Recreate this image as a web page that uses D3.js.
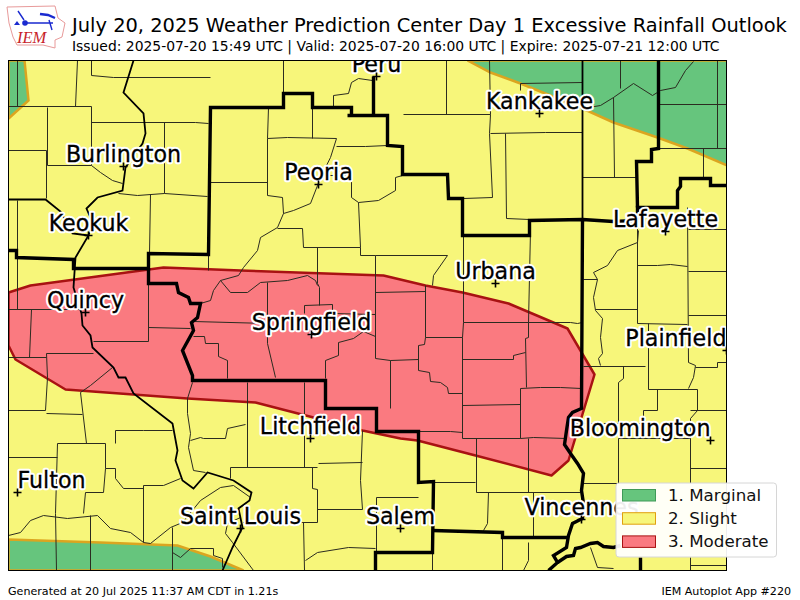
<!DOCTYPE html>
<html>
<head>
  <meta charset="utf-8">
  <script src="https://d3js.org/d3.v7.min.js"></script>
  <style>
    html, body { margin: 0; padding: 0; background: #fff; }
    text { font-family: "DejaVu Sans", sans-serif; }
  </style>
</head>
<body>
<script type="text/javascript">

  var titleText = "July 20, 2025 Weather Prediction Center Day 1 Excessive Rainfall Outlook";
  var subtitleText = "Issued: 2025-07-20 15:49 UTC | Valid: 2025-07-20 16:00 UTC | Expire: 2025-07-21 12:00 UTC";
  var footerLeft = "Generated at 20 Jul 2025 11:37 AM CDT in 1.21s";
  var footerRight = "IEM Autoplot App #220";

  var legendLabels = ["1. Marginal", "2. Slight", "3. Moderate"];
  var legendFills = ["#66c57d", "#f7f67a", "#fa7a80"];
  var legendEdges = ["#3f9a58", "#e0a010", "#a81212"];

  var cityNames = ["Peru", "Kankakee", "Burlington", "Peoria", "Keokuk", "Lafayette", "Urbana", "Quincy", "Springfield", "Plainfield", "Litchfield", "Bloomington", "Fulton", "Saint Louis", "Salem", "Vincennes"];
  var cityX = [376, 539, 123, 318, 88, 665, 495, 85, 311, 726, 310, 710, 17, 240, 400, 581];
  var cityY = [76, 113, 166, 184, 235, 231, 283, 312, 334, 350, 438, 440, 492, 528, 528, 519];
  var cityAnchor = ["middle", "middle", "middle", "middle", "middle", "middle", "middle", "middle", "middle", "end", "middle", "end", "start", "middle", "middle", "middle"];

  var marginalNW = [[8, 60], [24, 60], [28, 100], [8, 118]];
  var marginalNE = [[467, 60], [490, 72], [520, 83], [582, 108], [613, 122], [657, 137], [687, 148], [727, 165], [727, 60]];
  var marginalSW = [[8, 539], [100, 542], [177, 545], [210, 556], [243, 570], [8, 570]];
  var moderate = [[8, 292], [30, 285], [163, 267], [240, 270], [383, 275], [425, 285], [462, 292], [508, 303], [567, 328], [594, 374], [568, 460], [551, 475], [475, 455], [417, 440], [400, 438], [362, 430], [313, 417], [255, 402], [187, 398], [65, 389], [15, 359], [8, 345]];

  var cwaLines = [
    [[8, 250], [16, 250], [16, 257], [73, 259], [73, 268], [148, 268], [148, 253], [208, 254], [210, 107], [283, 107], [283, 93], [312, 93], [312, 107], [351, 107], [351, 115], [347, 115], [387, 115], [387, 145], [402, 146], [402, 174], [447, 174], [448, 198], [462, 198], [462, 235], [529, 235], [529, 220], [582, 219], [613, 221], [637, 220], [637, 207], [677, 207], [677, 190], [680, 186], [680, 178], [710, 178], [710, 185], [727, 185]],
    [[373, 76], [373, 115]],
    [[637, 207], [636, 161], [651, 161], [651, 149], [658, 148], [658, 60]],
    [[582, 219], [581, 408], [572, 412], [568, 417], [566, 430], [564, 444], [570, 453], [577, 463], [583, 473], [581, 490], [583, 503], [582, 518], [572, 523], [568, 535], [566, 547], [553, 555], [557, 562], [548, 570]],
    [[557, 562], [563, 558], [566, 556], [573, 555], [575, 548], [580, 547], [590, 543], [597, 542], [603, 546], [613, 547], [620, 545]],
    [[640, 557], [640, 570]],
    [[148, 268], [148, 283], [176, 283], [178, 292], [188, 297], [190, 303], [200, 303], [197, 317], [191, 322], [193, 330], [182, 350], [192, 375], [192, 380], [325, 380], [325, 408], [376, 408], [376, 431], [418, 431], [418, 482], [433, 481], [432, 552], [375, 552], [375, 570]],
    [[432, 530], [502, 532], [502, 537], [567, 537]]
  ];

  var riverLines = [
    [[133, 60], [123, 92], [143, 113], [145, 133], [142, 143], [125, 167], [122, 190], [97, 197], [86, 208], [92, 222], [88, 235], [75, 257], [73, 287], [81, 313], [82, 325], [90, 335], [92, 347], [113, 367], [118, 377], [125, 377], [133, 393], [172, 423], [177, 450], [175, 460], [182, 480], [193, 488], [207, 472], [233, 480], [251, 492], [249, 500], [238, 508], [242, 527], [232, 547], [222, 570]],
    [[8, 199], [45, 199], [60, 211], [72, 233], [88, 235]],
    [[582, 60], [582, 220]]
  ];

  var countyNorth = [
    [[17, 60], [17, 106]], [[77, 60], [75, 106]], [[8, 106], [91, 106]], [[91, 60], [91, 75], [113, 77], [210, 77]],
    [[91, 106], [91, 165], [100, 172], [112, 180], [122, 183]], [[47, 107], [47, 165], [91, 165]], [[91, 122], [195, 122], [208, 123]],
    [[164, 122], [164, 193]], [[8, 150], [46, 150], [46, 198]], [[118, 193], [137, 195], [164, 193], [207, 196]],
    [[150, 194], [149, 253]], [[17, 200], [17, 250]], [[283, 60], [283, 93]],
    [[333, 107], [333, 95], [348, 93], [351, 82], [358, 78], [372, 80]], [[268, 107], [267, 138]], [[312, 107], [312, 138]],
    [[267, 138], [287, 137], [336, 138], [330, 157], [320, 177], [317, 185], [310, 203], [293, 210], [283, 213], [277, 227], [260, 237], [257, 250], [243, 267], [238, 275], [220, 280], [213, 290], [210, 300], [200, 303]],
    [[267, 138], [267, 195], [282, 197], [283, 213]], [[210, 182], [267, 182]], [[277, 228], [302, 228], [303, 247], [360, 247]],
    [[320, 175], [351, 175], [351, 197], [358, 202], [378, 200], [395, 190], [395, 177], [402, 175]], [[358, 202], [360, 247], [360, 255], [375, 255], [375, 300]],
    [[336, 146], [365, 146], [387, 145]], [[208, 255], [208, 270]], [[446, 60], [446, 114]], [[403, 114], [490, 114]], [[489, 60], [490, 114], [489, 133], [492, 197], [463, 198]],
    [[490, 133], [545, 132], [582, 132]], [[505, 133], [506, 218], [529, 219]], [[520, 90], [520, 83], [582, 82]],
    [[620, 60], [620, 88]], [[582, 108], [600, 105], [613, 97], [633, 83], [652, 95], [660, 90], [675, 87], [685, 70], [693, 61]],
    [[613, 97], [614, 177]], [[582, 177], [636, 177]], [[659, 104], [727, 104]], [[717, 60], [717, 148]], [[658, 148], [727, 148]], [[703, 148], [703, 177]]
  ];

  var countyCentral = [
    [[8, 309], [82, 309]], [[17, 253], [17, 309]], [[31, 309], [29, 357]], [[8, 357], [46, 357]], [[46, 353], [93, 353]],
    [[46, 353], [47, 377], [45, 410]], [[93, 341], [148, 341], [148, 284]], [[148, 327], [190, 328]], [[112, 367], [90, 385], [80, 392], [86, 443]],
    [[317, 247], [317, 283], [319, 287], [319, 305]], [[304, 313], [304, 305], [332, 304], [332, 313], [375, 314]], [[375, 273], [375, 358], [390, 360], [418, 359]],
    [[375, 292], [425, 291]], [[425, 285], [425, 337], [424, 344], [418, 345], [418, 370], [429, 372], [430, 381], [440, 382], [447, 387], [448, 393], [462, 393]],
    [[463, 230], [463, 322], [462, 337], [462, 438]], [[530, 230], [528, 322], [528, 337], [525, 338], [526, 387]],
    [[375, 255], [447, 255], [433, 275], [432, 285]], [[463, 322], [528, 322], [570, 322], [577, 323], [582, 322]], [[425, 337], [462, 337]],
    [[462, 359], [513, 359], [513, 355], [525, 352]], [[520, 388], [540, 387], [560, 387], [581, 388]], [[520, 388], [520, 438]], [[462, 405], [520, 404]], [[462, 438], [520, 438], [533, 437], [566, 438]],
    [[418, 431], [450, 431], [462, 432]], [[193, 321], [267, 323]], [[267, 282], [267, 343], [275, 377]],
    [[193, 336], [204, 336], [205, 343], [218, 343], [218, 356], [227, 360], [227, 378]], [[220, 280], [230, 292], [247, 292], [260, 282], [287, 280], [307, 275], [315, 280], [317, 285]],
    [[325, 378], [325, 360], [338, 355], [338, 342], [353, 338], [363, 331], [375, 336]], [[390, 360], [390, 408]]
  ];

  var countySouth = [
    [[8, 410], [45, 410]], [[46, 413], [82, 414]], [[57, 443], [105, 443]], [[57, 443], [55, 513], [56, 570]], [[8, 457], [57, 457]],
    [[105, 443], [105, 468], [115, 468], [115, 478], [123, 488], [143, 488]], [[105, 468], [103, 492], [85, 492], [83, 513]], [[115, 430], [143, 430], [172, 430]], [[115, 430], [115, 443]],
    [[143, 485], [163, 485], [180, 478]], [[143, 485], [143, 542]],
    [[8, 535], [20, 532], [30, 520], [43, 515], [67, 518], [97, 515], [110, 528], [130, 532], [143, 542], [150, 543], [170, 527], [182, 522], [200, 500], [220, 487], [233, 485], [250, 497]],
    [[90, 515], [90, 570]], [[172, 527], [172, 570]], [[172, 552], [180, 557], [190, 548], [213, 548], [213, 555], [222, 558], [222, 567]],
    [[253, 570], [232, 542], [225, 533], [227, 523], [240, 517]], [[192, 382], [187, 398], [187, 413], [190, 433], [188, 447], [193, 470], [205, 472]],
    [[190, 440], [200, 437], [203, 438], [225, 438], [227, 428], [245, 424]], [[247, 382], [247, 467]], [[304, 382], [304, 467]], [[230, 478], [230, 467], [317, 467]],
    [[312, 467], [312, 488], [317, 489], [317, 522]], [[318, 463], [362, 462]], [[317, 509], [362, 509]], [[362, 430], [360, 480], [362, 509]], [[243, 522], [317, 522]], [[303, 522], [304, 570]],
    [[376, 497], [418, 497]], [[376, 497], [376, 552]], [[305, 560], [317, 552], [348, 547], [375, 548]],
    [[476, 438], [476, 492]], [[528, 438], [528, 492]], [[476, 492], [580, 492]], [[434, 482], [475, 482]], [[488, 492], [487, 523], [483, 530]], [[533, 492], [533, 537]],
    [[502, 537], [502, 570]], [[432, 553], [432, 570]], [[528, 542], [528, 560], [523, 570]]
  ];

  var countyEast = [
    [[583, 279], [597, 279], [593, 297], [595, 310], [602, 318], [600, 337], [602, 353], [598, 358], [600, 365]], [[597, 279], [593, 272], [607, 265], [617, 250], [637, 242], [638, 230]],
    [[595, 309], [637, 309]], [[637, 207], [637, 323]], [[637, 265], [657, 265], [670, 264], [687, 266]], [[637, 323], [687, 324]], [[687, 207], [688, 362]],
    [[688, 229], [727, 229]], [[688, 271], [727, 271]], [[688, 315], [727, 315]], [[648, 323], [648, 389]], [[583, 366], [645, 366]],
    [[623, 366], [623, 378], [618, 382], [618, 423]], [[648, 389], [697, 389]], [[688, 362], [695, 365], [693, 377], [688, 388]], [[695, 367], [717, 367], [717, 362], [727, 362]],
    [[697, 389], [697, 410]], [[657, 389], [657, 410]], [[643, 410], [657, 410]], [[643, 410], [643, 423]], [[690, 410], [727, 410]], [[697, 410], [690, 418], [690, 483]],
    [[570, 423], [640, 423]], [[618, 438], [690, 438]], [[640, 423], [640, 438]], [[618, 438], [618, 483]], [[583, 483], [617, 483]], [[690, 468], [727, 468]],
    [[690, 557], [690, 570]], [[690, 565], [727, 565]], [[590, 547], [597, 567], [613, 568]]
  ];

  var frame = {left: 8.5, right: 726.5, top: 60.5, bottom: 570.5};

  var x = d3.scaleLinear().domain([8, 726]).range([frame.left, frame.right]);
  var y = d3.scaleLinear().domain([60, 570]).range([frame.top, frame.bottom]);
  var line = d3.line().x(function(d) { return x(d[0]); }).y(function(d) { return y(d[1]); });
  var ring = d3.line().x(function(d) { return x(d[0]); }).y(function(d) { return y(d[1]); }).curve(d3.curveLinearClosed);

  var svg = d3.select("body").append("svg")
    .attr("width", 800)
    .attr("height", 600)
    .style("display", "block");

  svg.append("text").attr("x", 72).attr("y", 32).attr("font-size", 19.44).text(titleText);
  svg.append("text").attr("x", 72).attr("y", 51).attr("font-size", 13.9).text(subtitleText);
  svg.append("text").attr("x", 8).attr("y", 595).attr("font-size", 11.1).text(footerLeft);
  svg.append("text").attr("x", 791).attr("y", 595).attr("font-size", 11.1).attr("text-anchor", "end").text(footerRight);

  drawLogo();

  svg.append("clipPath").attr("id", "mapclip").append("rect")
    .attr("x", frame.left).attr("y", frame.top)
    .attr("width", frame.right - frame.left).attr("height", frame.bottom - frame.top);

  var map = svg.append("g").attr("clip-path", "url(#mapclip)");

  map.append("rect")
    .attr("x", frame.left).attr("y", frame.top)
    .attr("width", frame.right - frame.left).attr("height", frame.bottom - frame.top)
    .attr("fill", legendFills[1]);

  map.selectAll("path.marginal")
    .data([marginalNW, marginalNE, marginalSW])
    .enter().append("path")
    .attr("class", "marginal")
    .attr("d", ring)
    .attr("fill", legendFills[0])
    .attr("stroke", "#dba520")
    .attr("stroke-width", 2.5);

  map.append("path")
    .attr("d", ring(moderate))
    .attr("fill", legendFills[2])
    .attr("stroke", legendEdges[2])
    .attr("stroke-width", 2.5)
    .attr("stroke-linejoin", "round");

  map.selectAll("path.county")
    .data(countyNorth.concat(countyCentral, countySouth, countyEast))
    .enter().append("path")
    .attr("class", "county")
    .attr("d", line)
    .attr("fill", "none")
    .attr("stroke", "#2b2b20")
    .attr("stroke-width", 1);

  map.selectAll("path.river")
    .data(riverLines)
    .enter().append("path")
    .attr("class", "river")
    .attr("d", line)
    .attr("fill", "none")
    .attr("stroke", "#000")
    .attr("stroke-width", 1.8);

  map.selectAll("path.cwa")
    .data(cwaLines)
    .enter().append("path")
    .attr("class", "cwa")
    .attr("d", line)
    .attr("fill", "none")
    .attr("stroke", "#000")
    .attr("stroke-width", 3.4);

  var cities = map.selectAll("g.city")
    .data(cityNames)
    .enter().append("g")
    .attr("class", "city");

  // halo underneath, a thin stroke on the letters themselves
  cities.append("text")
    .attr("x", function(d, i) { return x(cityX[i]); })
    .attr("y", function(d, i) { return y(cityY[i]) - 5; })
    .attr("text-anchor", function(d, i) { return cityAnchor[i]; })
    .attr("font-size", 22.2)
    .attr("fill", "#fff")
    .attr("stroke", "#fff")
    .attr("stroke-width", 4.5)
    .attr("stroke-linejoin", "round")
    .text(function(d) { return d; });

  cities.append("text")
    .attr("x", function(d, i) { return x(cityX[i]); })
    .attr("y", function(d, i) { return y(cityY[i]) - 5; })
    .attr("text-anchor", function(d, i) { return cityAnchor[i]; })
    .attr("font-size", 22.2)
    .attr("fill", "#000")
    .attr("stroke", "#000")
    .attr("stroke-width", 0.3)
    .text(function(d) { return d; });

  cities.append("path")
    .attr("d", function(d, i) {
      var cx = x(cityX[i]), cy = y(cityY[i]);
      return "M" + (cx - 4) + "," + cy + "H" + (cx + 4) + "M" + cx + "," + (cy - 4) + "V" + (cy + 4);
    })
    .attr("stroke", "#000")
    .attr("stroke-width", 1.6);

  svg.append("rect")
    .attr("x", frame.left).attr("y", frame.top)
    .attr("width", frame.right - frame.left).attr("height", frame.bottom - frame.top)
    .attr("fill", "none")
    .attr("stroke", "#000")
    .attr("stroke-width", 1);

  // legend
  var legend = svg.append("g");

  legend.append("rect")
    .attr("x", 616).attr("y", 483)
    .attr("width", 160.5).attr("height", 74)
    .attr("rx", 3)
    .attr("fill", "#fff")
    .attr("fill-opacity", 0.93)
    .attr("stroke", "#d6d6d6");

  var rows = legend.selectAll("g")
    .data(legendLabels)
    .enter().append("g")
    .attr("transform", function(d, i) { return "translate(0," + (i * 23.2) + ")"; });

  rows.append("rect")
    .attr("x", 622.5).attr("y", 489.5)
    .attr("width", 33).attr("height", 11.5)
    .attr("fill", function(d, i) { return legendFills[i]; })
    .attr("stroke", function(d, i) { return legendEdges[i]; })
    .attr("stroke-width", 1);

  rows.append("text")
    .attr("x", 668).attr("y", 500.5)
    .attr("font-size", 16.7)
    .attr("fill", "#111")
    .text(function(d) { return d; });

  function drawLogo() {
    var logo = svg.append("g");
    logo.append("path")
      .attr("d", "M7,7L55,6L58,18L65,23L62,37L55,40L55,48L43,45L17,45L13,37L9,23Z")
      .attr("fill", "#fff")
      .attr("stroke", "#e89a9a")
      .attr("stroke-width", 1);
    logo.append("path")
      .attr("d", "M25,23H53M18,11L24,20M49,20L52,30")
      .attr("stroke", "#1a2ad0")
      .attr("stroke-width", 1.4)
      .attr("fill", "none");
    logo.append("path")
      .attr("d", "M40,14L48,15L55,18")
      .attr("stroke", "#1a2ad0")
      .attr("stroke-width", 2.4)
      .attr("fill", "none");
    logo.append("circle").attr("cx", 25).attr("cy", 23).attr("r", 2.8).attr("fill", "#1a2ad0");
    logo.append("path").attr("d", "M17,21L20,25H14Z").attr("fill", "#1a2ad0");
    logo.append("text")
      .attr("x", 17).attr("y", 43)
      .attr("font-size", 16.5)
      .attr("font-style", "italic")
      .attr("fill", "#c81e2a")
      .style("font-family", "'Liberation Serif', serif")
      .text("IEM");
  }

</script>
</body>
</html>
